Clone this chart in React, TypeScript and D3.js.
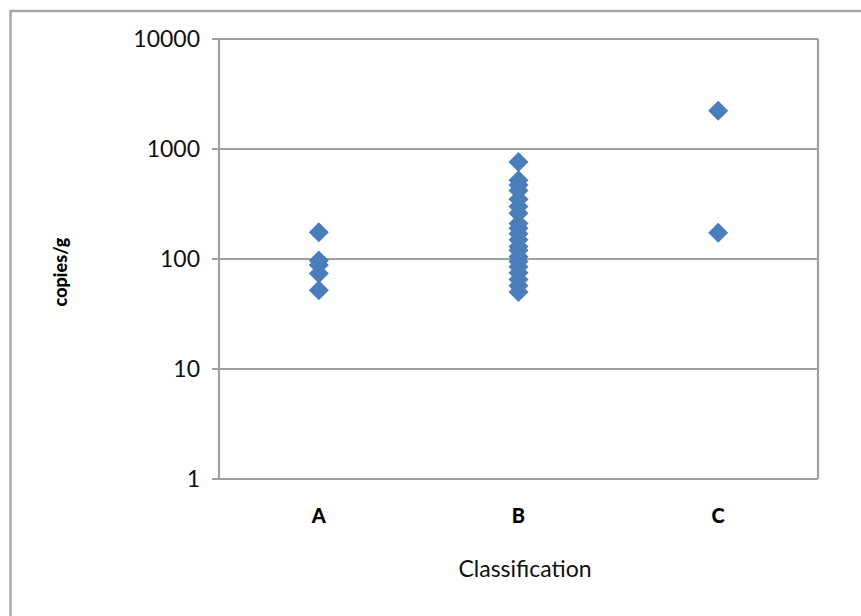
import React from "react";
import * as d3 from "d3";

const categories = ["A", "B", "C"];
const seriesA = [175, 97, 88, 74, 52];
const seriesB = [760, 520, 470, 420, 350, 300, 260, 210, 190, 170, 150, 130, 120, 105, 95, 85, 75, 65, 57, 50];
const seriesC = [2230, 173];
const yTicks = [1, 10, 100, 1000, 10000];
const yTitle = "copies/g";
const xTitle = "Classification";

const W = 861;
const H = 616;
const plot = { left: 219, right: 818, top: 39, bottom: 479 };

export default function App() {
  const x = d3.scaleLinear().domain([0.5, 3.5]).range([plot.left, plot.right]);
  const y = d3.scaleLog().domain([1, 10000]).range([plot.bottom, plot.top]);
  const diamond = d3.symbol().type(d3.symbolSquare).size(200)() as string;
  const groups = [seriesA, seriesB, seriesC];
  const grid = "#a0a0a0";
  const font = "Lato, 'Open Sans', sans-serif";

  return (
    <div style={{ position: "absolute", left: 0, top: 0 }}>
      <svg width={W} height={H} style={{ display: "block", background: "#fff" }}>
        <rect x={10.5} y={11} width={W + 20} height={H + 20} fill="#fff" stroke="#a6a6a6" strokeWidth={2.5} />
        {yTicks.map((t) => (
          <g key={t}>
            <line x1={plot.left - 7} x2={plot.right} y1={y(t)} y2={y(t)} stroke={grid} strokeWidth={2.2} />
            <text x={200} y={y(t)} dy="0.36em" textAnchor="end" fontFamily={font} fontSize={23} fill="#111">
              {t}
            </text>
          </g>
        ))}
        <line x1={plot.right} x2={plot.right} y1={plot.top} y2={plot.bottom} stroke={grid} strokeWidth={2.2} />
        <line x1={plot.left} x2={plot.left} y1={plot.top - 1} y2={plot.bottom + 1} stroke={grid} strokeWidth={2.2} />
        {groups.map((vals, i) =>
          vals.map((v, j) => (
            <path
              key={`${i}-${j}`}
              d={diamond}
              transform={`translate(${x(i + 1)},${y(v)}) rotate(45)`}
              fill="#4a7ebb"
            />
          ))
        )}
        {categories.map((c, i) => (
          <text key={c} x={x(i + 1)} y={523} textAnchor="middle" fontFamily={font} fontWeight={900} fontSize={20} fill="#000">
            {c}
          </text>
        ))}
        <text x={525} y={577} textAnchor="middle" fontFamily={font} fontSize={23} fill="#111">
          {xTitle}
        </text>
        <text transform="translate(67,272) rotate(-90)" textAnchor="middle" fontFamily={font} fontWeight={900} fontSize={18} fill="#000">
          {yTitle}
        </text>
      </svg>
    </div>
  );
}
